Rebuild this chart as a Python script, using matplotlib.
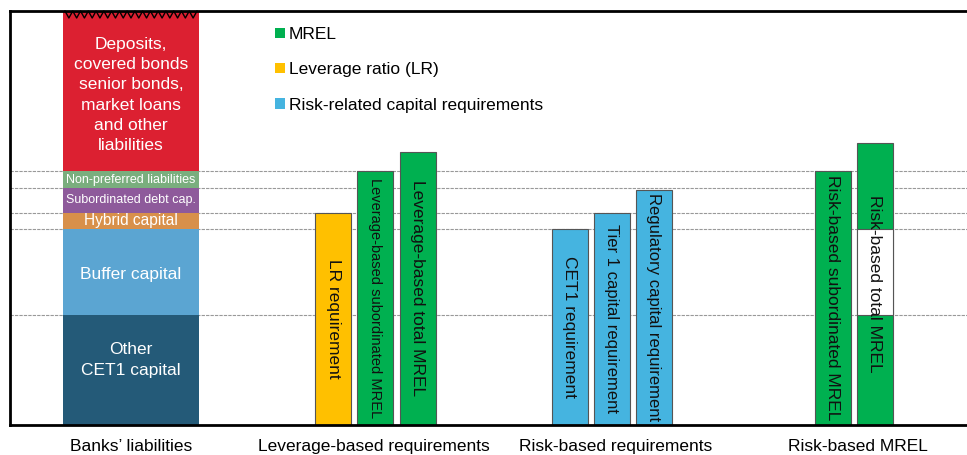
import matplotlib.pyplot as plt
from matplotlib.patches import Patch
import numpy as np

plt.rcParams['font.family'] = ['Liberation Sans', 'DejaVu Sans']

# Stacked liabilities column (bottom to top)
stack_labels = ["Other\nCET1 capital", "Buffer capital", "Hybrid capital",
                "Subordinated debt cap.", "Non-preferred liabilities",
                "Deposits,\ncovered bonds\nsenior bonds,\nmarket loans\nand other\nliabilities"]
stack_values = [110, 86, 16, 25, 17, 160]
stack_colors = ["#245a78", "#5ba5d2", "#d8904a", "#8e5a9b", "#7aae7e", "#dc2031"]
stack_fontsize = [12.5, 12.5, 11.2, 9, 9, 12.5]
# small vertical nudges of the labels inside the segments
stack_text_shift = [10, -2, 0, 0, 0, -4]

# Requirement bars
req_labels = ["LR requirement", "Leverage-based subordinated MREL", "Leverage-based total MREL",
              "CET1 requirement", "Tier 1 capital requirement", "Regulatory capital requirement",
              "Risk-based subordinated MREL", "Risk-based total MREL"]
req_values = [212, 254, 273, 196, 212, 235, 254, 282]
req_kind = ["LR", "MREL", "MREL", "Risk", "Risk", "Risk", "MREL", "MREL"]
req_fontsize = [12.5, 10.5, 12.5, 12.5, 12, 12, 12.5, 12.5]
# part of risk-based total MREL left open (buffer capital range)
gap_bottom, gap_top = 110, 196

group_labels = ["Banks\u2019 liabilities", "Leverage-based requirements",
                "Risk-based requirements", "Risk-based MREL"]

kind_colors = {"MREL": "#00b050", "LR": "#ffc000", "Risk": "#45b4e0"}
legend_labels = {"MREL": "MREL", "LR": "Leverage ratio (LR)",
                 "Risk": "Risk-related capital requirements"}

fig = plt.figure(figsize=(9.67, 4.55), dpi=100)
ax = fig.add_axes([10 / 967, 30 / 455, 957 / 967, 414 / 455])
ax.set_xlim(0, 957)
ax.set_ylim(0, 414)

# dashed reference levels at the stack boundaries
levels = np.cumsum(stack_values)[:-1]
for lv in levels:
    ax.axhline(lv, color="#999999", lw=0.8, ls=(0, (3, 1)), zorder=0)

# stacked column
stack_x, stack_w = 121, 136
bottom = 0
for lab, val, col, fs, sh in zip(stack_labels, stack_values, stack_colors,
                                 stack_fontsize, stack_text_shift):
    ax.bar(stack_x, val, width=stack_w, bottom=bottom, color=col, zorder=2)
    ax.text(stack_x, bottom + val / 2 + sh, lab, ha="center", va="center", color="white",
            fontsize=fs, linespacing=1.45, zorder=3)
    bottom += val

# zigzag on top of the open-ended column
zx = np.linspace(stack_x - stack_w / 2 + 2, stack_x + stack_w / 2 - 2, 35)
zy = np.where(np.arange(35) % 2 == 0, 414, 407)
ax.plot(zx, zy, color="black", lw=1, zorder=4, clip_on=False)

# requirement bars
req_x = [323, 365, 408, 560, 602, 644, 823, 865]
for x, lab, val, kind, fs in zip(req_x, req_labels, req_values, req_kind, req_fontsize):
    ax.bar(x, val, width=36, color=kind_colors[kind], edgecolor="#555555", lw=0.8, zorder=2)
    if lab == "Risk-based total MREL":
        ax.bar(x, gap_top - gap_bottom, width=36, bottom=gap_bottom, color="white",
               edgecolor="#555555", lw=0.8, zorder=2)
    ax.text(x, val / 2, lab, rotation=270, ha="center", va="center",
            fontsize=fs, color="#111111", zorder=3, rotation_mode="anchor")

# legend
handles = [Patch(facecolor=kind_colors[k], edgecolor="none", label=legend_labels[k])
           for k in ["MREL", "LR", "Risk"]]
fig.legend(handles=handles, loc="upper left", bbox_to_anchor=(275 / 967, 1 - 27 / 455),
           frameon=False, fontsize=12.5, handlelength=0.55, handleheight=0.55,
           handletextpad=0.25, labelspacing=1.17, borderaxespad=0, borderpad=0)

ax.set_xticks([121, 364, 606, 848], group_labels, fontsize=12.5)
ax.tick_params(axis="x", length=0, pad=10)
ax.set_yticks([])
for side in ["left", "top", "bottom"]:
    ax.spines[side].set_linewidth(2)
ax.spines["right"].set_visible(False)

fig.savefig("out.png", dpi=100)
